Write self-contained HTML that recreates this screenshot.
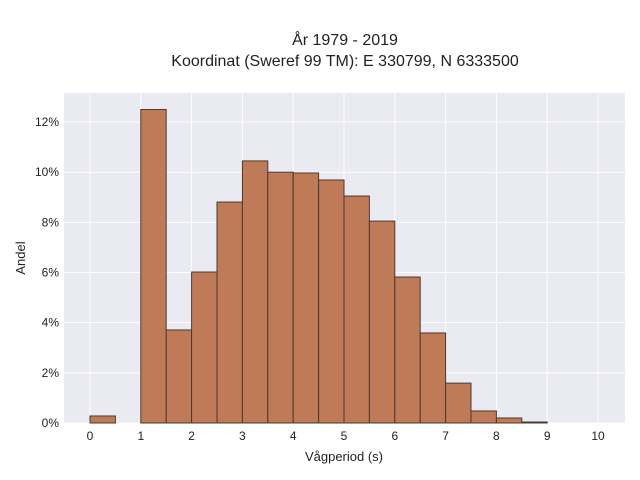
<!DOCTYPE html>
<html><head><meta charset="utf-8"><style>
body{margin:0;background:#fff;}
svg{display:block;font-family:"Liberation Sans",sans-serif;}
</style></head><body>
<svg id="c" width="640" height="480">
<text x="345" y="45" text-anchor="middle" font-size="16" fill="#222">År 1979 - 2019</text>
<text x="345" y="66" text-anchor="middle" font-size="16" fill="#222">Koordinat (Sweref 99 TM): E 330799, N 6333500</text>
<rect x="64" y="93" width="561" height="330" fill="#eaeaf2"/>
<g id="grid"></g><g id="bars"></g><g id="ticks"></g>
<text x="344" y="461" text-anchor="middle" font-size="13" fill="#222">Vågperiod (s)</text>
<text transform="translate(25,258) rotate(-90)" text-anchor="middle" font-size="13" fill="#222">Andel</text>
</svg>
<script>
const binStarts=[0,0.5,1,1.5,2,2.5,3,3.5,4,4.5,5,5.5,6,6.5,7,7.5,8,8.5,9,9.5];
const binValues=[0.28,0,12.5,3.71,6.02,8.81,10.45,10.0,9.97,9.69,9.05,8.05,5.82,3.59,1.59,0.48,0.2,0.04,0,0];
const binWidth=0.5;
const xTicks=[0,1,2,3,4,5,6,7,8,9,10];
const yTicks=[0,2,4,6,8,10,12];
const ns="http://www.w3.org/2000/svg";
const X=v=>90+v*50.8, Y=v=>423-v*25.08;
const grid=document.getElementById('grid'),bars=document.getElementById('bars'),ticks=document.getElementById('ticks');
function mk(tag,a,p){const e=document.createElementNS(ns,tag);for(const k in a)e.setAttribute(k,a[k]);p.appendChild(e);return e;}
xTicks.forEach(t=>{
 const l=mk('line',{x1:X(t),x2:X(t),y1:93,y2:423,stroke:'#fff','stroke-width':1},grid);
 
 
 const s=mk('text',{x:X(t),y:440,'text-anchor':'middle','font-size':12,fill:'#222'},ticks);
 s.textContent=t;
 
 
});
yTicks.forEach(t=>{
 const l=mk('line',{x1:64,x2:625,y1:Y(t),y2:Y(t),stroke:'#fff','stroke-width':1},grid);
 
 
 const s=mk('text',{x:59,y:Y(t)+4,'text-anchor':'end','font-size':12,fill:'#222'},ticks);
 s.textContent=t+'%';
 
 
});
binStarts.forEach((b,i)=>{
 const v=binValues[i]; if(v<=0)return;
 const r=mk('rect',{x:X(b),y:Y(v),width:X(b+binWidth)-X(b),height:Y(0)-Y(v),fill:'#bf7b57',stroke:'#4a3a32','stroke-width':1},bars);
 
 
});
</script>
</body></html>
